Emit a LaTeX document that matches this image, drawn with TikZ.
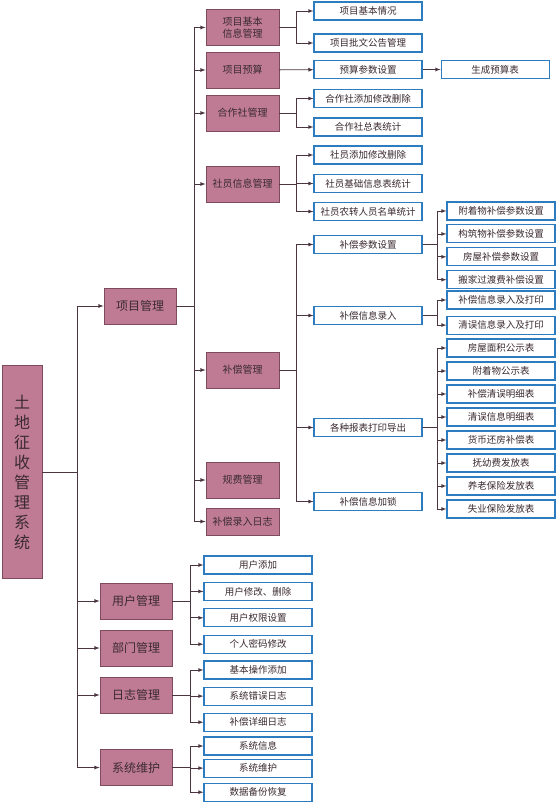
\documentclass[tikz,border=0pt]{standalone}
\usepackage{fontspec}
\newfontfamily\cjk{Noto Sans CJK SC}
\usetikzlibrary{positioning}
\definecolor{mauve}{HTML}{BF7B93}
\definecolor{mauveline}{HTML}{7E4B5E}
\definecolor{leafline}{HTML}{2E7CC0}
\definecolor{linkc}{HTML}{4A3540}
\definecolor{txt}{HTML}{3A2A30}
\begin{document}
\begin{tikzpicture}[x=1pt, y=-1pt, font=\cjk\fontsize{9.5}{10}\selectfont, text=txt,
	mod/.style={draw=mauveline, fill=mauve, line width=0.8pt, minimum width=73pt, minimum height=36pt, inner sep=1pt, align=center, font=\cjk\fontsize{10}{12.5}\selectfont},
	top/.style={mod, minimum width=72pt, font=\cjk\fontsize{12}{14}\selectfont},
	leaf/.style={draw=leafline, fill=white, line width=1.1pt, minimum width=108pt, minimum height=18pt, inner sep=0pt},
	link/.style={draw=linkc, line width=0.8pt, -latex}]
		\useasboundingbox (0,0) rectangle (558,803);
		% root
		\node[mod, minimum width=40pt, minimum height=213pt, align=center, font=\cjk\fontsize{16}{20}\selectfont] (root) at (22,472) {土\\地\\征\\收\\管\\理\\系\\统};
		% first level
		\node[top] (pm) at (140,306) {项目管理};
		\node[top] (um) at (136,601) {用户管理};
		\node[top] (dm) at (136,648) {部门管理};
		\node[top] (lm) at (136,695) {日志管理};
		\node[top] (sm) at (136,767.5) {系统维护};
		% project modules
		\node[mod] (info) at (242.5,27.5) {项目基本\\信息管理};
		\node[mod] (budget) at (242.5,70) {项目预算};
		\node[mod] (coop) at (242.5,113) {合作社管理};
		\node[mod] (member) at (242.5,184) {社员信息管理};
		\node[mod] (comp) at (242.5,370) {补偿管理};
		\node[mod] (fee) at (242.5,480) {规费管理};
		\node[mod, minimum height=27pt] (rlog) at (242.5,521.5) {补偿录入日志};
		% project leaves
		\node[leaf] (a1) at (368,11) {项目基本情况};
		\node[leaf] (a2) at (368,43) {项目批文公告管理};
		\node[leaf] (b1) at (368,69.5) {预算参数设置};
		\node[leaf] (b2) [right=18pt of b1] {生成预算表};
		\node[leaf] (c1) at (368,98.5) {合作社添加修改删除};
		\node[leaf] (c2) at (368,127) {合作社总表统计};
		\node[leaf] (m1) at (368,155) {社员添加修改删除};
		\node[leaf] (m2) at (368,183.5) {社员基础信息表统计};
		\node[leaf] (m3) at (368,211.5) {社员农转人员名单统计};
		\node[leaf] (p1) at (368,244.5) {补偿参数设置};
		\node[leaf] (p2) at (368,315.5) {补偿信息录入};
		\node[leaf] (p3) at (368,427.5) {各种报表打印导出};
		\node[leaf] (p4) at (368,501.5) {补偿信息加锁};
		% compensation leaves
		\node[leaf] (q1) at (501,211) {附着物补偿参数设置};
		\node[leaf] (q2) [below=3.8pt of q1] {构筑物补偿参数设置};
		\node[leaf] (q3) [below=3.8pt of q2] {房屋补偿参数设置};
		\node[leaf] (q4) [below=3.8pt of q3] {搬家过渡费补偿设置};
		\node[leaf] (r1) at (501,300) {补偿信息录入及打印};
		\node[leaf] (r2) [below=6pt of r1] {清误信息录入及打印};
		\node[leaf] (s1) at (501,348) {房屋面积公示表};
		\node[leaf] (s2) [below=3.9pt of s1] {附着物公示表};
		\node[leaf] (s3) [below=3.9pt of s2] {补偿清误明细表};
		\node[leaf] (s4) [below=3.9pt of s3] {清误信息明细表};
		\node[leaf] (s5) [below=3.9pt of s4] {货币还房补偿表};
		\node[leaf] (s6) [below=3.9pt of s5] {抚幼费发放表};
		\node[leaf] (s7) [below=3.9pt of s6] {养老保险发放表};
		\node[leaf] (s8) [below=3.9pt of s7] {失业保险发放表};
		% user, log and system leaves
		\node[leaf] (u1) at (258,565) {用户添加};
		\node[leaf] (u2) [below=7.3pt of u1] {用户修改、删除};
		\node[leaf] (u3) [below=7.3pt of u2] {用户权限设置};
		\node[leaf] (u4) [below=7.3pt of u3] {个人密码修改};
		\node[leaf] (l1) at (258,670) {基本操作添加};
		\node[leaf] (l2) [below=7pt of l1] {系统错误日志};
		\node[leaf] (l3) [below=7pt of l2] {补偿详细日志};
		\node[leaf] (y1) at (258,746) {系统信息};
		\node[leaf] (y2) [below=3pt of y1] {系统维护};
		\node[leaf] (y3) [below=5pt of y2] {数据备份恢复};
		% connectors
		\foreach \c in {pm,um,dm,lm,sm}
			\draw[link] (root.east) -- ++(35,0) |- (\c.west);
		\foreach \c in {info,budget,coop,member,comp,fee,rlog}
			\draw[link] (pm.east) -- ++(18,0) |- (\c.west);
		\foreach \c in {a1,a2}
			\draw[link] (info.east) -- ++(17,0) |- (\c.west);
		\draw[link] (budget) -- (b1);
		\draw[link] (b1) -- (b2);
		\foreach \c in {c1,c2}
			\draw[link] (coop.east) -- ++(17,0) |- (\c.west);
		\foreach \c in {m1,m2,m3}
			\draw[link] (member.east) -- ++(17,0) |- (\c.west);
		\foreach \c in {p1,p2,p3,p4}
			\draw[link] (comp.east) -- ++(17,0) |- (\c.west);
		\foreach \c in {q1,q2,q3,q4}
			\draw[link] (p1.east) -- ++(15,0) |- (\c.west);
		\foreach \c in {r1,r2}
			\draw[link] (p2.east) -- ++(15,0) |- (\c.west);
		\foreach \c in {s1,s2,s3,s4,s5,s6,s7,s8}
			\draw[link] (p3.east) -- ++(15,0) |- (\c.west);
		\foreach \c in {u1,u2,u3,u4}
			\draw[link] (um.east) -- ++(18,0) |- (\c.west);
		\foreach \c in {l1,l2,l3}
			\draw[link] (lm.east) -- ++(18,0) |- (\c.west);
		\foreach \c in {y1,y2,y3}
			\draw[link] (sm.east) -- ++(18,0) |- (\c.west);
\end{tikzpicture}
\end{document}
